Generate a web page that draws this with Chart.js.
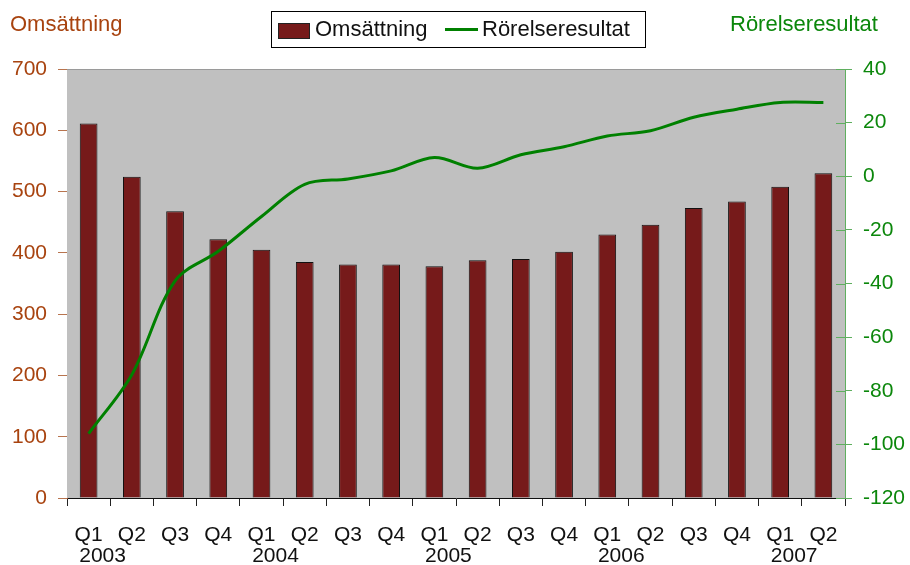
<!DOCTYPE html>
<html>
<head>
<meta charset="utf-8">
<script src="https://cdn.jsdelivr.net/npm/chart.js@4"></script>
<style>
  html, body { margin: 0; padding: 0; background: #fff; }
  #wrap { width: 910px; height: 565px; }
</style>
</head>
<body>
<div id="wrap"><canvas id="chart" width="910" height="565"></canvas></div>
<script>
  // data
  const quarters = ["Q1", "Q2", "Q3", "Q4", "Q1", "Q2", "Q3", "Q4", "Q1", "Q2", "Q3", "Q4", "Q1", "Q2", "Q3", "Q4", "Q1", "Q2"];
  const years = ["2003", "2004", "2005", "2006", "2007"];
  const yearStart = [0, 4, 8, 12, 16];
  const omsattning = [611, 524, 468, 422, 405, 385, 381, 381, 378, 388, 390, 402, 430, 446, 473, 484, 508, 530];
  const rorelseresultat = [-96, -74, -39, -28, -15, -3, -1, 2, 7, 3, 8, 11, 15, 17, 22, 25, 27.5, 27.5];

  const font = "'Liberation Sans', Arial, sans-serif";
  const brown = "#a8430f";
  const green = "#0b870b";

  // gray plot background, titles, legend box and year labels
  const decor = {
    id: "decor",
    beforeDatasetsDraw(chart) {
      const { ctx, chartArea: a } = chart;
      ctx.save();
      ctx.fillStyle = "#c0c0c0";
      ctx.fillRect(a.left, a.top, a.right - a.left, a.bottom - a.top);
      ctx.strokeStyle = "#9a9a9a";
      ctx.lineWidth = 1;
      ctx.beginPath();
      ctx.moveTo(a.left, a.top + 0.5);
      ctx.lineTo(a.right, a.top + 0.5);
      ctx.stroke();
      ctx.restore();
    },
    afterDraw(chart) {
      const { ctx, chartArea: a } = chart;
      const bars = chart.data.datasets[1];
      const line = chart.data.datasets[0];
      ctx.save();
      ctx.textBaseline = "middle";
      ctx.font = "22px " + font;

      // axis titles
      ctx.fillStyle = brown;
      ctx.textAlign = "left";
      ctx.fillText("Omsättning", 10, 25);
      ctx.fillStyle = green;
      ctx.fillText("Rörelseresultat", 730, 25);

      // legend
      ctx.fillStyle = "#fff";
      ctx.fillRect(271.5, 11.5, 374, 36);
      ctx.strokeStyle = "#000";
      ctx.lineWidth = 1;
      ctx.strokeRect(271.5, 11.5, 374, 36);
      ctx.fillStyle = bars.backgroundColor;
      ctx.fillRect(278.5, 23.5, 31, 15);
      ctx.strokeStyle = "#222";
      ctx.strokeRect(278.5, 23.5, 31, 15);
      ctx.fillStyle = "#111";
      ctx.fillText(bars.label, 315, 30);
      ctx.strokeStyle = line.borderColor;
      ctx.lineWidth = 3;
      ctx.beginPath();
      ctx.moveTo(445, 29.5);
      ctx.lineTo(478, 29.5);
      ctx.stroke();
      ctx.fillText(line.label, 482, 30);

      // inner half of the right axis ticks
      const yr = chart.scales.yR;
      ctx.strokeStyle = "#5faf5f";
      ctx.lineWidth = 1;
      yr.ticks.forEach(t => {
        const y = Math.round(yr.getPixelForValue(t.value)) + 0.5;
        ctx.beginPath();
        ctx.moveTo(a.right - 9, y);
        ctx.lineTo(a.right, y);
        ctx.stroke();
      });

      // year labels under the Q1 ticks
      const x = chart.scales.x;
      ctx.fillStyle = "#111";
      ctx.font = "21px " + font;
      ctx.textAlign = "center";
      years.forEach((yLabel, i) => {
        ctx.fillText(yLabel, x.getPixelForValue(yearStart[i]) + 14, 556);
      });
      ctx.restore();
    }
  };

  new Chart(document.getElementById("chart"), {
    type: "bar",
    data: {
      labels: quarters,
      datasets: [{
        type: "line",
        label: "Rörelseresultat",
        data: rorelseresultat,
        yAxisID: "yR",
        borderColor: "#008000",
        borderWidth: 3,
        pointRadius: 0,
        tension: 0.33,
        fill: false,
        order: 0
      }, {
        label: "Omsättning",
        data: omsattning,
        yAxisID: "y",
        backgroundColor: "#761a1a",
        borderColor: "#111",
        borderWidth: 1,
        categoryPercentage: 1,
        barPercentage: 0.41,
        order: 1
      }]
    },
    options: {
      responsive: false,
      animation: false,
      layout: { padding: { top: 69, left: 0, right: 0, bottom: 0 } },
      plugins: {
        legend: { display: false },
        tooltip: { enabled: false }
      },
      scales: {
        x: {
          grid: { display: true, drawOnChartArea: false, tickLength: 8, color: "#222", offset: true },
          border: { color: "#111", width: 1 },
          ticks: { color: "#111", font: { family: font, size: 21 }, padding: 17, maxRotation: 0, autoSkip: false },
          afterFit: s => { s.height = 67; }
        },
        y: {
          position: "left",
          min: 0,
          max: 700,
          grid: { drawOnChartArea: false, tickLength: 9, color: "#b8744e" },
          border: { color: "#a0522d", width: 1 },
          ticks: { stepSize: 100, color: brown, font: { family: font, size: 21 }, padding: 11 },
          afterFit: s => { s.width = 67; }
        },
        yR: {
          position: "right",
          min: -120,
          max: 40,
          grid: { drawOnChartArea: false, tickLength: 7, color: "#5faf5f" },
          border: { color: "#5faf5f", width: 1 },
          ticks: { stepSize: 20, color: green, font: { family: font, size: 21 }, padding: 11 },
          afterFit: s => { s.width = 65; }
        }
      }
    },
    plugins: [decor]
  });
</script>
</body>
</html>
